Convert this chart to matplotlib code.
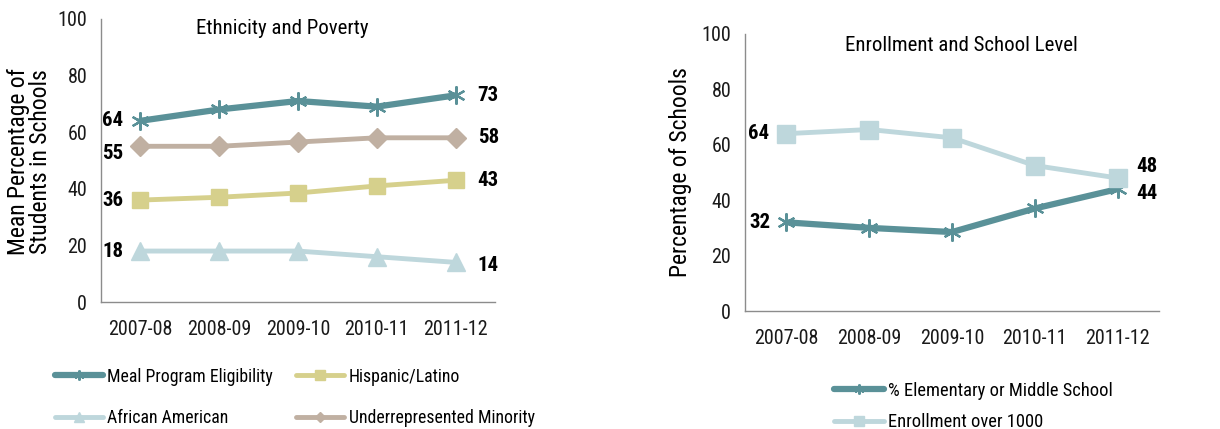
import numpy as np
import matplotlib
matplotlib.use('Agg')
import matplotlib.pyplot as plt
from matplotlib import font_manager

years = ['2007-08', '2008-09', '2009-10', '2010-11', '2011-12']

# left panel: ethnicity and poverty
meal = [64, 68, 71, 69, 73]
hispanic = [36, 37, 38.5, 41, 43]
african = [18, 18, 18, 16, 14]
urm = [55, 55, 56.5, 58, 58]

# right panel: enrollment and school level
elem_mid = [32, 30, 28.5, 37, 44]
over1000 = [64, 65.5, 62.5, 52.5, 48]

teal = '#5a9198'
tan = '#d6d08c'
lightblue = '#bed7dc'
taupe = '#c0b0a2'

# pick a narrow face if one is installed
fonts = font_manager.fontManager.ttflist
names = {f.name for f in fonts}
family, stretch = 'DejaVu Sans', 'normal'
for cand in ['Liberation Sans Narrow', 'Roboto Condensed', 'Open Sans Condensed']:
    if cand in names:
        family = cand
        break
else:
    cond = [f for f in fonts if f.stretch in ('condensed', 'semi-condensed', 'extra-condensed')
            or 'Condensed' in f.fname or 'Narrow' in f.fname]
    if cond:
        family = cond[0].name
        stretch = cond[0].stretch if isinstance(cond[0].stretch, str) else 'condensed'
plt.rcParams['font.family'] = [family, 'DejaVu Sans']
plt.rcParams['font.stretch'] = stretch

star = (6, 2, 0)
x = np.arange(len(years))

fig = plt.figure(figsize=(12.2, 4.29), dpi=100)
ax1 = fig.add_axes([0.0828, 0.296, 0.3229, 0.660])
ax2 = fig.add_axes([0.6107, 0.275, 0.3393, 0.646])


def style(ax):
    ax.set_xlim(-0.5, 4.5)
    ax.set_ylim(0, 100)
    ax.set_yticks(range(0, 101, 20))
    ax.set_xticks(x)
    ax.set_xticklabels(years)
    for s in ['top', 'right']:
        ax.spines[s].set_visible(False)
    for s in ['left', 'bottom']:
        ax.spines[s].set_color('#8c8c8c')
        ax.spines[s].set_linewidth(1.0)
    ax.tick_params(length=0, labelsize=14.5, colors='#1a1a1a')
    ax.tick_params(axis='x', pad=13)
    ax.tick_params(axis='y', pad=10)


style(ax1)
l_meal, = ax1.plot(x, meal, color=teal, lw=4.5, marker=star, ms=13, mew=1.6,
                   mec=teal, label='Meal Program Eligibility', solid_capstyle='round')
l_hisp, = ax1.plot(x, hispanic, color=tan, lw=3.5, marker='s', ms=12,
                   label='Hispanic/Latino', solid_capstyle='round')
l_afr, = ax1.plot(x, african, color=lightblue, lw=3.5, marker='^', ms=13,
                  label='African American', solid_capstyle='round')
l_urm, = ax1.plot(x, urm, color=taupe, lw=3.5, marker='D', ms=10,
                  label='Underrepresented Minority', solid_capstyle='round')
ax1.text(0.46, 0.965, 'Ethnicity and Poverty', transform=ax1.transAxes,
         fontsize=15, ha='center', va='center')
ax1.set_ylabel('Mean Percentage of\nStudents in Schools', fontsize=17,
               linespacing=0.95)
ax1.yaxis.set_label_coords(-0.124, 0.495)

lbl = dict(fontsize=15, fontweight='bold', va='center')
for series, dy0 in [(meal, 0), (urm, -2.5), (hispanic, 0), (african, 0)]:
    ax1.text(-0.22, series[0] + dy0, f'{series[0]:.0f}', ha='right', **lbl)
for series, dy in [(meal, 0), (urm, 0), (hispanic, 0), (african, -1)]:
    ax1.text(4.28, series[-1] + dy, f'{series[-1]:.0f}', ha='left', **lbl)

style(ax2)
ax2.plot(x, elem_mid, color=teal, lw=4.5, marker=star, ms=13, mew=1.6,
         mec=teal, label='% Elementary or Middle School', solid_capstyle='round')
ax2.plot(x, over1000, color=lightblue, lw=3.5, marker='s', ms=13,
         label='Enrollment over 1000', solid_capstyle='round')
ax2.text(0.522, 0.957, 'Enrollment and School Level', transform=ax2.transAxes,
         fontsize=15, ha='center', va='center')
ax2.set_ylabel('Percentage of Schools', fontsize=17)
ax2.yaxis.set_label_coords(-0.128, 0.50)
ax2.text(-0.21, over1000[0], f'{over1000[0]:.0f}', ha='right', **lbl)
ax2.text(-0.19, elem_mid[0], f'{elem_mid[0]:.0f}', ha='right', **lbl)
ax2.text(4.22, over1000[-1] + 4, f'{over1000[-1]:.0f}', ha='left', **lbl)
ax2.text(4.22, elem_mid[-1] - 1.5, f'{elem_mid[-1]:.0f}', ha='left', **lbl)

# legend rows read across: meal, hispanic / african, urm
handles = [l_meal, l_afr, l_hisp, l_urm]
fig.legend(handles, [h.get_label() for h in handles], ncol=2, loc='upper left',
           bbox_to_anchor=(0.045, 0.143), frameon=False, fontsize=12.8,
           handlelength=2.7, handletextpad=0.25, columnspacing=1.3,
           labelspacing=1.3, markerscale=0.55, borderpad=0, borderaxespad=0)
h, l = ax2.get_legend_handles_labels()
fig.legend(h, l, ncol=1, loc='upper left',
           bbox_to_anchor=(0.6836, 0.110), frameon=False, fontsize=13.3,
           handlelength=2.7, handletextpad=0.25, labelspacing=0.72,
           markerscale=0.55, borderpad=0, borderaxespad=0)

fig.savefig('out.png', dpi=100)
